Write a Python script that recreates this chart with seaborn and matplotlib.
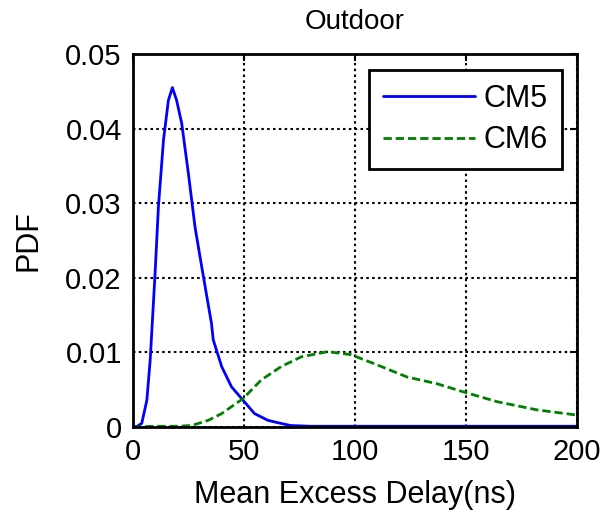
import matplotlib
matplotlib.use("Agg")
import matplotlib.pyplot as plt
import numpy as np
import pandas as pd
import seaborn as sns

# values
cm5_delay = [0, 2, 4, 6.3, 7.8, 10, 11.5, 13.8, 16, 17.8, 19.7, 22, 25, 28, 31,
             35.4, 36.2, 40, 44.4, 49.6, 54.8, 60.8, 65, 71, 80, 120, 160, 200]
cm5_pdf = [0, 0.0001, 0.0005, 0.0036, 0.009, 0.0206, 0.0295, 0.0385, 0.0438,
           0.0455, 0.0438, 0.0407, 0.034, 0.0268, 0.0215, 0.0139, 0.0117, 0.0081,
           0.0054, 0.0036, 0.0018, 0.0009, 0.0006, 0.0002, 0.0001, 0.0001,
           0.0001, 0.0001]

cm6_delay = [0, 10, 20, 26.5, 34, 40, 49.6, 57.8, 66.8, 75.8, 87.7, 98.2, 108.6,
             123.6, 137, 149, 164, 182, 200]
cm6_pdf = [0, 0.0001, 0.0001, 0.0002, 0.0009, 0.0018, 0.0038, 0.0063, 0.0081,
           0.0094, 0.0101, 0.0097, 0.0085, 0.0067, 0.0058, 0.0047, 0.0034,
           0.0023, 0.0016]

xticks = [0, 50, 100, 150, 200]
yticks = [0, 0.01, 0.02, 0.03, 0.04, 0.05]
ytick_labels = ["0", "0.01", "0.02", "0.03", "0.04", "0.05"]

sns.set_style("white")
plt.rcParams["font.family"] = ["Liberation Sans", "DejaVu Sans"]
plt.rcParams["text.color"] = "black"
plt.rcParams["axes.labelcolor"] = "black"

df5 = pd.DataFrame({"delay": cm5_delay, "pdf": cm5_pdf})
df6 = pd.DataFrame({"delay": cm6_delay, "pdf": cm6_pdf})

fig = plt.figure(figsize=(6.04, 5.12), dpi=100)
ax = fig.add_axes([0.220, 0.166, 0.735, 0.7285])

sns.lineplot(data=df5, x="delay", y="pdf", ax=ax, color=(0, 0, 1), lw=2,
             label="CM5")
sns.lineplot(data=df6, x="delay", y="pdf", ax=ax, color=(0, 0.5, 0), lw=2,
             linestyle=(0, (3, 1.4)), label="CM6")

ax.set_xlim(0, 200)
ax.set_ylim(0, 0.05)
ax.set_xticks(xticks)
ax.set_xticklabels([str(t) for t in xticks])
ax.set_yticks(yticks)
ax.set_yticklabels(ytick_labels)
ax.grid(True, color="black", linestyle=(0, (1.2, 1.6)), lw=1.5)
ax.tick_params(axis="both", labelsize=21, direction="in", length=5,
               width=1.5, colors="black", pad=8, top=True, right=True)
for s in ax.spines.values():
    s.set_visible(True)
    s.set_color("black")
    s.set_linewidth(2)

ax.set_xlabel("Mean Excess Delay(ns)", fontsize=22, labelpad=10)
ax.set_ylabel("PDF", fontsize=22, labelpad=16)
ax.set_title("Outdoor", fontsize=20, pad=18)

leg = ax.legend(loc="upper right", bbox_to_anchor=(0.966, 0.957),
                borderaxespad=0, fontsize=22, handlelength=3.0,
                handletextpad=0.3, fancybox=False, framealpha=1,
                edgecolor="black", borderpad=0.45, labelspacing=0.38)
leg.get_frame().set_linewidth(2)

fig.savefig("out.png", dpi=100)
